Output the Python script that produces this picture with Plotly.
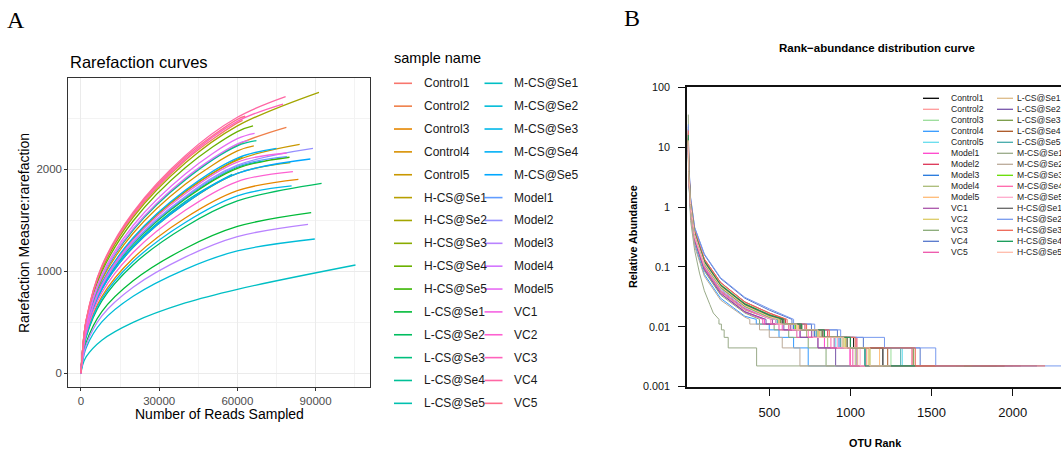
import math
import plotly.graph_objects as go

W, H = 1061, 450


def px(x):
    return x / W


def py(y):
    return 1 - y / H


# ---------------- Panel A : rarefaction curves (data) ----------------
rare_names = ["Control1", "Control2", "Control3", "Control4", "Control5",
              "H-CS@Se1", "H-CS@Se2", "H-CS@Se3", "H-CS@Se4", "H-CS@Se5",
              "L-CS@Se1", "L-CS@Se2", "L-CS@Se3", "L-CS@Se4", "L-CS@Se5",
              "M-CS@Se1", "M-CS@Se2", "M-CS@Se3", "M-CS@Se4", "M-CS@Se5",
              "Model1", "Model2", "Model3", "Model4", "Model5",
              "VC1", "VC2", "VC3", "VC4", "VC5"]
rare_sample_x = [0, 500, 2000, 8000, 20000, 40000, 60000]
rare_end_x = [62000, 78800, 83400, 66300, 83900,
              62000, 91300, 80300, 66000, 80000,
              88300, 92300, 70000, 67300, 58000,
              105300, 89700, 80800, 75000, 88000,
              79000, 89000, 87100, 64000, 66600,
              78900, 81300, 77500, 78500, 63000]
rare_y = [
    [0, 196, 516, 1031, 1547, 2087, 2455, 2480],
    [0, 179, 470, 941, 1411, 1904, 2240, 2412],
    [0, 143, 376, 752, 1128, 1522, 1790, 1902],
    [0, 174, 458, 916, 1373, 1853, 2180, 2229],
    [0, 167, 439, 878, 1317, 1777, 2090, 2245],
    [0, 168, 441, 882, 1323, 1785, 2100, 2120],
    [0, 194, 509, 1019, 1528, 2061, 2425, 2755],
    [0, 157, 412, 823, 1235, 1666, 1960, 2065],
    [0, 190, 498, 995, 1493, 2015, 2370, 2425],
    [0, 161, 422, 844, 1266, 1709, 2010, 2118],
    [0, 115, 302, 605, 907, 1224, 1440, 1575],
    [0, 135, 355, 710, 1065, 1437, 1690, 1863],
    [0, 162, 424, 848, 1273, 1717, 2020, 2080],
    [0, 178, 468, 937, 1405, 1896, 2230, 2281],
    [0, 158, 416, 832, 1247, 1683, 1950],
    [0, 70, 163, 325, 500, 690, 824, 1062],
    [0, 96, 252, 504, 756, 1020, 1200, 1317],
    [0, 139, 365, 731, 1096, 1479, 1740, 1837],
    [0, 169, 443, 886, 1329, 1794, 2110, 2206],
    [0, 157, 412, 823, 1235, 1666, 1960, 2101],
    [0, 162, 426, 853, 1279, 1726, 2030, 2124],
    [0, 163, 428, 857, 1285, 1734, 2040, 2206],
    [0, 107, 281, 563, 844, 1139, 1340, 1461],
    [0, 180, 473, 945, 1418, 1913, 2250, 2280],
    [0, 184, 483, 966, 1449, 1955, 2300, 2353],
    [0, 166, 435, 869, 1304, 1760, 2070, 2160],
    [0, 150, 395, 790, 1184, 1598, 1880, 1977],
    [0, 198, 519, 1037, 1556, 2100, 2470, 2640],
    [0, 201, 527, 1054, 1581, 2134, 2510, 2712],
    [0, 199, 523, 1046, 1569, 2117, 2490, 2520],
]
rare_xticks = [0, 30000, 60000, 90000]
rare_xticklabels = ["0", "30000", "60000", "90000"]
rare_yticks = [0, 1000, 2000]
rare_yticklabels = ["0", "1000", "2000"]

# ---------------- Panel B : rank-abundance (data) ----------------
ra_names = ["Control1", "Control2", "Control3", "Control4", "Control5",
            "Model1", "Model2", "Model3", "Model4", "Model5",
            "VC1", "VC2", "VC3", "VC4", "VC5",
            "L-CS@Se1", "L-CS@Se2", "L-CS@Se3", "L-CS@Se4", "L-CS@Se5",
            "M-CS@Se1", "M-CS@Se2", "M-CS@Se3", "M-CS@Se4", "M-CS@Se5",
            "H-CS@Se1", "H-CS@Se2", "H-CS@Se3", "H-CS@Se4", "H-CS@Se5"]
ra_colors = ["#000000", "#FF9999", "#99DD99", "#3399FF", "#66DDEE",
             "#FF44CC", "#DD3355", "#2277DD", "#AABB77", "#FFBB77",
             "#AA55AA", "#DDCC66", "#88AA77", "#5577CC", "#EE55AA",
             "#DDBB88", "#7755AA", "#779944", "#AA5522", "#44AAAA",
             "#99AA88", "#BBAA99", "#66DD00", "#FF66AA", "#FFAACC",
             "#666666", "#7799EE", "#EE6655", "#119955", "#FFBBAA"]
ranks_std = [1, 4, 15, 40, 100, 200, 350, 500]
ranks_fast = [1, 4, 15, 40, 70, 100, 134, 155]
ra_head_ranks = [ranks_std] * 20 + [ranks_fast] + [ranks_std] * 9
ra_head_vals = [
    [14, 4.0, 1.1, 0.36, 0.12, 0.05, 0.024, 0.016],
    [10, 3.4, 1.0, 0.33, 0.11, 0.045, 0.022, 0.0145],
    [18, 4.5, 1.2, 0.38, 0.13, 0.052, 0.025, 0.016],
    [9, 2.9, 0.8, 0.24, 0.075, 0.03, 0.015, None],
    [9, 3.2, 0.95, 0.30, 0.10, 0.042, 0.021, 0.014],
    [16, 3.9, 1.0, 0.31, 0.095, 0.038, 0.018, None],
    [20, 4.8, 1.25, 0.40, 0.135, 0.055, 0.026, 0.017],
    [11, 3.5, 1.0, 0.32, 0.105, 0.043, 0.021, 0.0138],
    [8, 3.0, 0.9, 0.29, 0.095, 0.039, 0.019, 0.0142],
    [13, 3.7, 1.05, 0.35, 0.115, 0.048, 0.023, 0.0152],
    [10, 3.3, 0.95, 0.30, 0.10, 0.040, 0.020, 0.0141],
    [15, 4.1, 1.1, 0.35, 0.12, 0.048, 0.023, 0.015],
    [7, 2.8, 0.85, 0.27, 0.085, 0.034, 0.017, None],
    [22, 5.5, 1.4, 0.45, 0.16, 0.064, 0.030, 0.019],
    [12, 3.4, 0.95, 0.29, 0.092, 0.036, 0.0175, None],
    [10, 3.5, 1.0, 0.33, 0.11, 0.045, 0.022, 0.0145],
    [9, 3.1, 0.9, 0.28, 0.09, 0.036, 0.0178, None],
    [14, 4.0, 1.1, 0.35, 0.118, 0.048, 0.023, 0.015],
    [17, 4.4, 1.15, 0.37, 0.125, 0.05, 0.024, 0.0158],
    [11, 3.6, 1.0, 0.32, 0.108, 0.044, 0.0215, 0.014],
    [35, 4.5, 0.6, 0.19, 0.079, 0.04, 0.0235, 0.017],
    [9, 2.8, 0.75, 0.22, 0.07, 0.028, 0.0145, None],
    [13, 3.8, 1.05, 0.34, 0.112, 0.046, 0.022, 0.0146],
    [11, 3.3, 0.95, 0.30, 0.098, 0.040, 0.0195, 0.014],
    [12, 3.6, 1.0, 0.32, 0.105, 0.043, 0.021, 0.0138],
    [15, 4.2, 1.15, 0.36, 0.12, 0.049, 0.0235, 0.0155],
    [24, 5.8, 1.45, 0.46, 0.165, 0.066, 0.031, 0.020],
    [19, 4.7, 1.25, 0.40, 0.135, 0.055, 0.026, 0.017],
    [16, 4.3, 1.15, 0.37, 0.125, 0.05, 0.024, 0.0157],
    [13, 3.9, 1.1, 0.35, 0.115, 0.047, 0.0225, 0.0148],
]
# rank where the 6-read level is reached, then ranks where it leaves the 5,4,3,2,1-read levels
ra_head_end = [580, 560, 600, 420, 540, 470, 600, 540, 520, 570,
               520, 560, 440, 640, 460, 560, 480, 570, 590, 550,
               190, 380, 560, 510, 540, 580, 650, 610, 590, 560]
ra_drops = [
    [690, 840, 1020, 1200, 1900], [660, 780, 940, 1100, 1700], [700, 840, 1000, 1250, 2000],
    [500, 560, 650, 740, 1350], [640, 770, 910, 1320, 1800], [580, 690, 840, 997, 1600],
    [720, 860, 1040, 1380, 2050], [650, 780, 930, 1090, 1750], [620, 730, 860, 1030, 1600],
    [680, 810, 980, 1180, 1850], [630, 760, 900, 1040, 1650], [670, 800, 970, 1110, 1800],
    [530, 620, 740, 850, 1400], [760, 920, 1080, 1430, 2150], [560, 670, 800, 1015, 1550],
    [670, 800, 950, 1045, 1750], [590, 690, 800, 909, 1500], [690, 820, 980, 1390, 1900],
    [700, 830, 1000, 1230, 1950], [660, 790, 940, 1310, 1800], [205, 222, 247, 422, 900],
    [440, 500, 580, 689, 1300], [660, 800, 960, 1120, 1750], [620, 740, 880, 1000, 1650],
    [640, 770, 920, 1060, 1700], [690, 830, 980, 1200, 1950], [780, 940, 1210, 1526, 2400],
    [730, 870, 1030, 1400, 2200], [700, 840, 1000, 1090, 1400], [670, 800, 960, 1120, 1250],
]
rarefy_depth = 45000
read_levels = [6, 5, 4, 3, 2, 1]
ra_yticks = [0.001, 0.01, 0.1, 1, 10, 100]
ra_yticklabels = ["0.001", "0.01", "0.1", "1", "10", "100"]
ra_xticks = [500, 1000, 1500, 2000]
ra_xticklabels = ["500", "1000", "1500", "2000"]


# ---------------- helpers ----------------
def hcl_hex(h, c=100.0, l=65.0):
    Xn, Yn, Zn = 95.047, 100.0, 108.883
    hr = math.radians(h)
    u, v = c * math.cos(hr), c * math.sin(hr)
    Y = Yn * ((l + 16) / 116) ** 3
    d = Xn + 15 * Yn + 3 * Zn
    un, vn = 4 * Xn / d, 9 * Yn / d
    up, vp = u / (13 * l) + un, v / (13 * l) + vn
    X = Y * 9 * up / (4 * vp)
    Z = Y * (12 - 3 * up - 20 * vp) / (4 * vp)
    X, Y, Z = X / 100, Y / 100, Z / 100
    rgb = [3.240479 * X - 1.537150 * Y - 0.498535 * Z,
           -0.969256 * X + 1.875992 * Y + 0.041556 * Z,
           0.055648 * X - 0.204043 * Y + 1.057311 * Z]
    out = []
    for ch in rgb:
        ch = 1.055 * ch ** (1 / 2.4) - 0.055 if ch > 0.0031308 else 12.92 * ch
        out.append(int(round(min(max(ch, 0), 1) * 255)))
    return "#%02X%02X%02X" % tuple(out)


n_rare = len(rare_names)
rare_colors = [hcl_hex(15 + 360 * i / n_rare) for i in range(n_rare)]


def step_curve(hranks, hvals, r_h, drops):
    lv = [n / rarefy_depth * 100 for n in read_levels]
    xs, ys = [], []
    for r, v in zip(hranks, hvals):
        if v is not None and r < r_h:
            xs.append(r)
            ys.append(v)
    xs.append(r_h)
    ys.append(lv[0])
    prev = r_h
    for i, dr in enumerate(drops):
        xs += [prev, dr]
        ys += [lv[i + 1], lv[i + 1]]
        prev = dr
    return xs, ys


SANS = "Liberation Sans, Arial, sans-serif"
SERIF = "Liberation Serif, Times New Roman, serif"

fig = go.Figure()

# Panel A traces
for i, name in enumerate(rare_names):
    xs = [p for p in rare_sample_x if p < rare_end_x[i]] + [rare_end_x[i]]
    fig.add_trace(go.Scatter(
        x=xs, y=rare_y[i], mode="lines", name=name, showlegend=False,
        line=dict(color=rare_colors[i], width=1.3, shape="spline", smoothing=1.0),
        xaxis="x", yaxis="y", hoverinfo="name+x+y"))

# Panel B traces
for i, name in enumerate(ra_names):
    xs, ys = step_curve(ra_head_ranks[i], ra_head_vals[i], ra_head_end[i], ra_drops[i])
    fig.add_trace(go.Scatter(
        x=xs, y=ys, mode="lines", name=name, showlegend=False,
        line=dict(color=ra_colors[i], width=1.0),
        xaxis="x2", yaxis="y2", hoverinfo="name+x+y"))

annotations = []
shapes = []


def ann(text, x, y, size, xanchor="center", family=SANS, color="#000000", angle=0):
    annotations.append(dict(text=text, x=px(x), y=py(y), xref="paper", yref="paper",
                            xanchor=xanchor, yanchor="middle", showarrow=False,
                            textangle=angle, font=dict(family=family, size=size, color=color)))


# Panel labels
ann("A", 16, 20, 24, family=SERIF)
ann("B", 632, 18, 24, family=SERIF)

# Panel A titles
ann("Rarefaction curves", 67.5, 62, 16.5, xanchor="left")
ann("Number of Reads Sampled", 219, 414, 14)
ann("Rarefaction Measure:rarefaction", 24, 233, 14, angle=-90)

# Panel A legend
ann("sample name", 391.5, 58, 14.5, xanchor="left")
for i, name in enumerate(rare_names):
    col, row = divmod(i, 15)
    y = 83.3 + 22.86 * row
    x0 = 394 if col == 0 else 484.5
    shapes.append(dict(type="line", xref="paper", yref="paper",
                       x0=px(x0), x1=px(x0 + 18), y0=py(y), y1=py(y),
                       line=dict(color=rare_colors[i], width=1.6)))
    ann(name, x0 + 27.5, y, 12, xanchor="left", color="#1A1A1A")

# Panel B titles
ann("<b>Rank\u2212abundance distribution curve</b>", 877, 48, 11.5)
ann("<b>OTU Rank</b>", 875, 443, 10.8)
ann("<b>Relative Abundance</b>", 633, 237, 10.8, angle=-90)

# Panel B legend
for i, name in enumerate(ra_names):
    col, row = divmod(i, 15)
    y = 98.3 + 11.0 * row
    x0 = 923 if col == 0 else 997
    shapes.append(dict(type="line", xref="paper", yref="paper",
                       x0=px(x0), x1=px(x0 + 16), y0=py(y), y1=py(y),
                       line=dict(color=ra_colors[i], width=1.3)))
    ann(name, x0 + (25.5 if col == 0 else 17.5), y, 8.6, xanchor="left", color="#222222")

fig.update_layout(
    width=W, height=H, margin=dict(l=0, r=0, t=0, b=0, pad=0, autoexpand=False),
    paper_bgcolor="white", plot_bgcolor="white", showlegend=False,
    font=dict(family=SANS),
    annotations=annotations, shapes=shapes,
    xaxis=dict(domain=[px(68.3), px(370)], range=[-4870, 110870], anchor="y",
               automargin=False,
               tickvals=rare_xticks, ticktext=rare_xticklabels,
               showgrid=True, gridcolor="#EBEBEB", gridwidth=1.1,
               minor=dict(tickvals=[15000, 45000, 75000, 105000], showgrid=True,
                          gridcolor="#F3F3F3", gridwidth=0.6),
               zeroline=False, showline=True, mirror=True, linecolor="#333333", linewidth=1,
               ticks="outside", ticklen=3, tickcolor="#333333", tickwidth=1,
               tickfont=dict(size=11.5, color="#4D4D4D")),
    yaxis=dict(domain=[py(386.7), py(78.3)], range=[-131, 2892], anchor="x",
               automargin=False,
               tickvals=rare_yticks, ticktext=rare_yticklabels,
               showgrid=True, gridcolor="#EBEBEB", gridwidth=1.1,
               minor=dict(tickvals=[500, 1500, 2500], showgrid=True,
                          gridcolor="#F3F3F3", gridwidth=0.6),
               zeroline=False, showline=True, mirror=True, linecolor="#333333", linewidth=1,
               ticks="outside", ticklen=3, tickcolor="#333333", tickwidth=1,
               tickfont=dict(size=11.5, color="#4D4D4D")),
    xaxis2=dict(domain=[px(687), 1.0], range=[-7, 2298], anchor="y2",
                automargin=False,
                tickvals=ra_xticks, ticktext=ra_xticklabels,
                showgrid=False, zeroline=False, showline=True, mirror=True,
                linecolor="#111111", linewidth=1.5,
                ticks="outside", ticklen=8, tickcolor="#111111", tickwidth=1.2,
                ticklabelstandoff=5,
                tickfont=dict(size=13, color="#111111")),
    yaxis2=dict(domain=[py(386.7), py(87.3)], type="log", range=[-3, 2], anchor="x2",
                automargin=False,
                tickvals=ra_yticks, ticktext=ra_yticklabels,
                showgrid=False, zeroline=False, showline=True, mirror=False,
                linecolor="#111111", linewidth=1.5,
                ticks="outside", ticklen=7, tickcolor="#111111", tickwidth=1.2,
                ticklabelstandoff=6,
                tickfont=dict(size=10.8, color="#111111")),
)

fig.write_html("out.html", config={"displayModeBar": False},
               post_script="document.body.style.margin='0';document.body.style.overflow='hidden';")
